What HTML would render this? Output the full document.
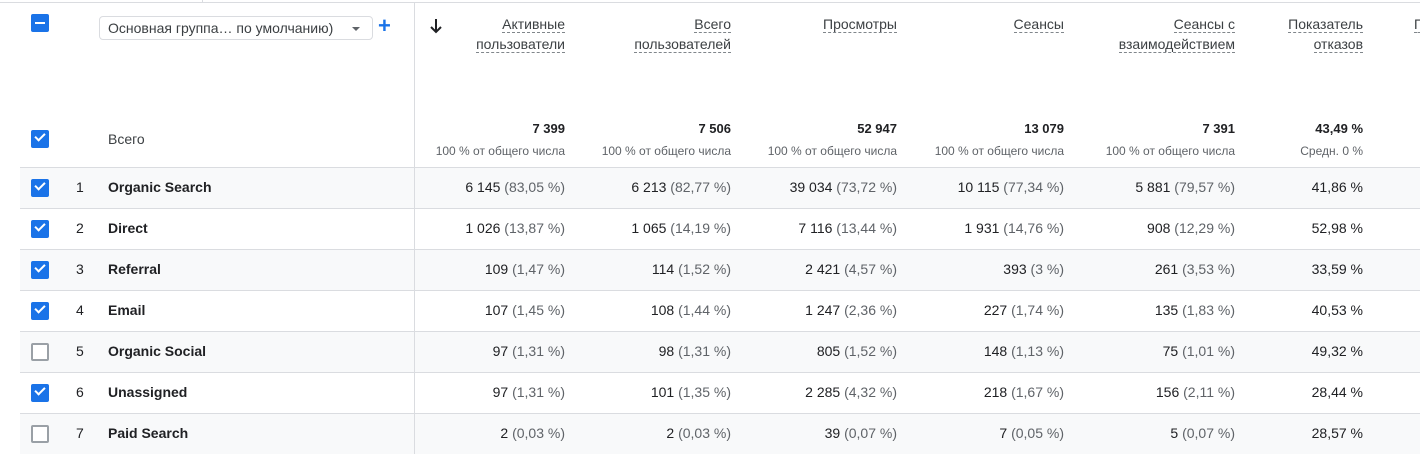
<!DOCTYPE html>
<html><head><meta charset="utf-8"><style>
body{margin:0;width:1420px;height:470px;background:#fff;overflow:hidden;font-family:"Liberation Sans",Arial,sans-serif;color:#202124;position:relative}
.a{position:absolute}
.row{position:absolute;left:20px;width:1400px;height:40px;border-bottom:1px solid #dadce0}
.g{background:#f8f9fa}
.row span.v{position:absolute;top:11px;font-size:14px;white-space:nowrap;line-height:16px}
.p{color:#5f6368}
.c1{right:855px}.c2{right:689px}.c3{right:523px}.c4{right:356px}.c5{right:185px}.c6{right:57px}
.cb{position:absolute;left:11px;top:11px;width:18px;height:18px;border-radius:2px;box-sizing:border-box}
.on{background:#1a73e8}
.off{border:2px solid #9aa0a6;background:#fff}
.on::after{content:"";position:absolute;left:4px;top:3px;width:8px;height:4px;border-left:2px solid #fff;border-bottom:2px solid #fff;transform:rotate(-45deg)}
.num{position:absolute;left:56px;top:11px;font-size:14px;line-height:16px}
.nm{position:absolute;left:88px;top:11px;font-size:14px;font-weight:bold;line-height:16px}
.h{position:absolute;font-size:14px;color:#3c4043;text-align:right;line-height:20px}
.h u{text-decoration:none;border-bottom:1px dashed #80868b}
.t{position:absolute;top:121px;font-size:13px;font-weight:bold;text-align:right}
.s{position:absolute;top:144px;font-size:12px;color:#5f6368;text-align:right;white-space:nowrap}
</style></head><body>
<div class="a" style="left:0;top:2px;width:1420px;height:1px;background:#dadce0"></div>
<div class="a" style="left:202px;top:0;width:1px;height:3px;background:#dadce0"></div>
<div class="a" style="left:414px;top:3px;width:1px;height:451px;background:#dadce0;z-index:2"></div>

<div class="a" style="left:31px;top:14px;width:18px;height:18px;background:#1a73e8;border-radius:2px"><div class="a" style="left:4px;top:8px;width:10px;height:2px;background:#fff"></div></div>
<div class="a" style="left:99px;top:16px;width:274px;border:1px solid #dadce0;border-radius:4px;font-size:14px;color:#3c4043;line-height:23px;box-sizing:border-box;padding-left:8px;height:24px">Основная группа… по умолчанию)<span class="a" style="left:252px;top:10px;width:0;height:0;border-left:4px solid transparent;border-right:4px solid transparent;border-top:4px solid #5f6368"></span></div>
<div class="a" style="left:378px;top:14px;font-size:22px;color:#1a73e8;line-height:24px;font-weight:bold">+</div>
<svg class="a" style="left:429px;top:18px" width="14" height="16" viewBox="0 0 14 16"><path d="M7 1V14M2 9L7 14L12 9" stroke="#202124" stroke-width="2" fill="none"/></svg>

<div class="h" style="right:855px;top:14px"><u>Активные</u><br><u>пользователи</u></div>
<div class="h" style="right:689px;top:14px"><u>Всего</u><br><u>пользователей</u></div>
<div class="h" style="right:523px;top:14px"><u>Просмотры</u></div>
<div class="h" style="right:356px;top:14px"><u>Сеансы</u></div>
<div class="h" style="right:185px;top:14px"><u>Сеансы с</u><br><u>взаимодействием</u></div>
<div class="h" style="right:57px;top:14px"><u>Показатель</u><br><u>отказов</u></div>
<div class="h" style="left:1414px;top:14px;text-align:left"><u>П</u></div>

<div class="a" style="left:31px;top:130px;width:18px;height:18px;background:#1a73e8;border-radius:2px"><div class="a" style="left:4px;top:3px;width:8px;height:4px;border-left:2px solid #fff;border-bottom:2px solid #fff;transform:rotate(-45deg)"></div></div>
<div class="a" style="left:108px;top:131px;font-size:14px;color:#3c4043">Всего</div>
<div class="t" style="right:855px">7 399</div><div class="s" style="right:855px">100 % от общего числа</div>
<div class="t" style="right:689px">7 506</div><div class="s" style="right:689px">100 % от общего числа</div>
<div class="t" style="right:523px">52 947</div><div class="s" style="right:523px">100 % от общего числа</div>
<div class="t" style="right:356px">13 079</div><div class="s" style="right:356px">100 % от общего числа</div>
<div class="t" style="right:185px">7 391</div><div class="s" style="right:185px">100 % от общего числа</div>
<div class="t" style="right:57px">43,49 %</div><div class="s" style="right:57px">Средн. 0 %</div>
<div class="a" style="left:20px;top:167px;width:1400px;height:1px;background:#dadce0"></div>

<div class="row g" style="top:168px;left:20px"><div class="cb on"></div><span class="num">1</span><span class="nm">Organic Search</span>
<span class="v c1">6 145 <span class="p">(83,05 %)</span></span><span class="v c2">6 213 <span class="p">(82,77 %)</span></span><span class="v c3">39 034 <span class="p">(73,72 %)</span></span><span class="v c4">10 115 <span class="p">(77,34 %)</span></span><span class="v c5">5 881 <span class="p">(79,57 %)</span></span><span class="v c6">41,86 %</span></div>
<div class="row" style="top:209px"><div class="cb on"></div><span class="num">2</span><span class="nm">Direct</span>
<span class="v c1">1 026 <span class="p">(13,87 %)</span></span><span class="v c2">1 065 <span class="p">(14,19 %)</span></span><span class="v c3">7 116 <span class="p">(13,44 %)</span></span><span class="v c4">1 931 <span class="p">(14,76 %)</span></span><span class="v c5">908 <span class="p">(12,29 %)</span></span><span class="v c6">52,98 %</span></div>
<div class="row g" style="top:250px"><div class="cb on"></div><span class="num">3</span><span class="nm">Referral</span>
<span class="v c1">109 <span class="p">(1,47 %)</span></span><span class="v c2">114 <span class="p">(1,52 %)</span></span><span class="v c3">2 421 <span class="p">(4,57 %)</span></span><span class="v c4">393 <span class="p">(3 %)</span></span><span class="v c5">261 <span class="p">(3,53 %)</span></span><span class="v c6">33,59 %</span></div>
<div class="row" style="top:291px"><div class="cb on"></div><span class="num">4</span><span class="nm">Email</span>
<span class="v c1">107 <span class="p">(1,45 %)</span></span><span class="v c2">108 <span class="p">(1,44 %)</span></span><span class="v c3">1 247 <span class="p">(2,36 %)</span></span><span class="v c4">227 <span class="p">(1,74 %)</span></span><span class="v c5">135 <span class="p">(1,83 %)</span></span><span class="v c6">40,53 %</span></div>
<div class="row g" style="top:332px"><div class="cb off"></div><span class="num">5</span><span class="nm">Organic Social</span>
<span class="v c1">97 <span class="p">(1,31 %)</span></span><span class="v c2">98 <span class="p">(1,31 %)</span></span><span class="v c3">805 <span class="p">(1,52 %)</span></span><span class="v c4">148 <span class="p">(1,13 %)</span></span><span class="v c5">75 <span class="p">(1,01 %)</span></span><span class="v c6">49,32 %</span></div>
<div class="row" style="top:373px"><div class="cb on"></div><span class="num">6</span><span class="nm">Unassigned</span>
<span class="v c1">97 <span class="p">(1,31 %)</span></span><span class="v c2">101 <span class="p">(1,35 %)</span></span><span class="v c3">2 285 <span class="p">(4,32 %)</span></span><span class="v c4">218 <span class="p">(1,67 %)</span></span><span class="v c5">156 <span class="p">(2,11 %)</span></span><span class="v c6">28,44 %</span></div>
<div class="row g" style="top:414px;border-bottom:none;height:40px"><div class="cb off"></div><span class="num">7</span><span class="nm">Paid Search</span>
<span class="v c1">2 <span class="p">(0,03 %)</span></span><span class="v c2">2 <span class="p">(0,03 %)</span></span><span class="v c3">39 <span class="p">(0,07 %)</span></span><span class="v c4">7 <span class="p">(0,05 %)</span></span><span class="v c5">5 <span class="p">(0,07 %)</span></span><span class="v c6">28,57 %</span></div>
</body></html>
